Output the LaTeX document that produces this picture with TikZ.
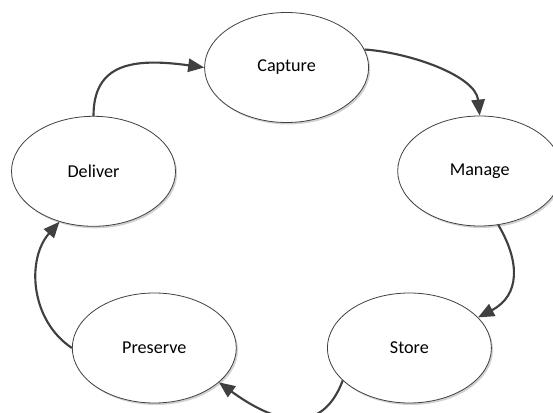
\documentclass[tikz,border=0pt]{standalone}
\usepackage{fontspec}
\setmainfont{Carlito}
\usetikzlibrary{shapes.geometric,arrows.meta,shadows}
\definecolor{ink}{HTML}{404040}
\tikzset{
  stage/.style={ellipse, draw=ink, line width=0.6pt, fill=white,
    minimum width=123pt, minimum height=82.5pt, inner sep=0pt,
    font=\fontsize{13.6}{16}\selectfont,
    drop shadow={shadow xshift=1.2pt, shadow yshift=-1.5pt, opacity=0.18, fill=black}},
  flow/.style={draw=ink, line width=1.6pt,
    -{Triangle[length=12pt,width=10pt]}}
}
\begin{document}
\begin{tikzpicture}[x=0.75pt,y=-0.75pt]
  \clip (0,0) rectangle (553,413);
  \fill[white] (0,0) rectangle (553,413);

  % stages of the cycle
  \node[stage] (capture)  at (286.6,67.5) {Capture};
  \node[stage] (manage)   at (479.7,171)  {Manage};
  \node[stage] (store)    at (409.4,348)  {Store};
  \node[stage] (preserve) at (154.3,348)  {Preserve};
  \node[stage] (deliver)  at (93.5,171.3) {Deliver};

  % connectors running round the cycle
  \draw[flow] (deliver.north) .. controls +(0,-52) and +(-72,-10) .. (capture.west);
  \draw[flow] (capture.13) .. controls +(45,3) and +(-4,-40) .. (manage.north);
  \draw[flow] (manage.289) .. controls +(22,37) and +(42,-22) .. (store.24);
  \draw[flow] (store.206) .. controls +(-24,64) and +(44,32) .. (preserve.332);
  \draw[flow] (preserve.west) .. controls +(-42,-28) and +(-33,37) .. (deliver.236);
\end{tikzpicture}
\end{document}
